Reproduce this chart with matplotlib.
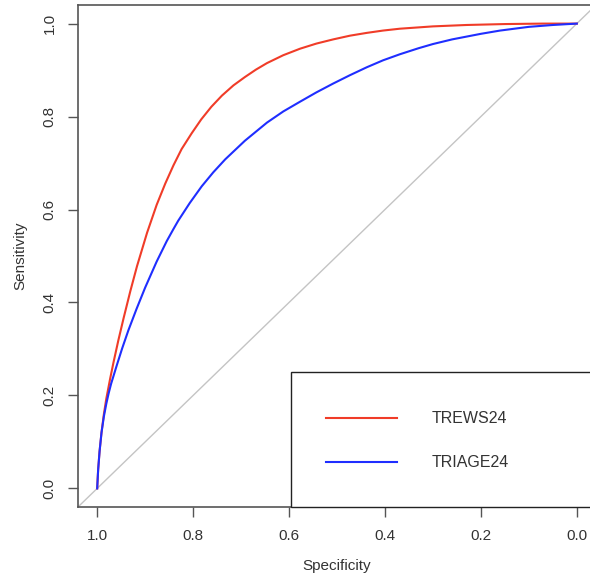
import matplotlib
matplotlib.use('Agg')
import matplotlib.pyplot as plt
from matplotlib.patches import Rectangle

plt.rcParams['font.family'] = ['Liberation Sans', 'DejaVu Sans']

# smoothed ROC curves (specificity, sensitivity)
trews_spec = [1.0, 0.998, 0.995, 0.991, 0.986, 0.981, 0.973, 0.966, 0.956, 0.945,
              0.931, 0.917, 0.896, 0.876, 0.858, 0.841, 0.824, 0.803, 0.783, 0.762,
              0.740, 0.716, 0.692, 0.669, 0.646, 0.612, 0.577, 0.543, 0.508, 0.473,
              0.438, 0.404, 0.369, 0.30, 0.23, 0.15, 0.07, 0.0]
trews_sens = [0.0, 0.040, 0.080, 0.120, 0.160, 0.193, 0.236, 0.271, 0.318, 0.366,
              0.424, 0.478, 0.550, 0.610, 0.656, 0.695, 0.730, 0.764, 0.794, 0.821,
              0.845, 0.867, 0.885, 0.901, 0.915, 0.932, 0.946, 0.957, 0.966, 0.974,
              0.980, 0.985, 0.989, 0.994, 0.997, 0.999, 1.0, 1.0]

triage_spec = [1.0, 0.998, 0.995, 0.991, 0.986, 0.981, 0.976, 0.971, 0.960, 0.948,
               0.935, 0.918, 0.900, 0.876, 0.855, 0.841, 0.831, 0.807, 0.782, 0.758,
               0.733, 0.692, 0.646, 0.612, 0.577, 0.543, 0.508, 0.473, 0.438, 0.404,
               0.369, 0.33, 0.30, 0.26, 0.20, 0.16, 0.10, 0.05, 0.0]
triage_sens = [0.0, 0.040, 0.080, 0.120, 0.155, 0.182, 0.205, 0.225, 0.262, 0.301,
               0.340, 0.386, 0.432, 0.488, 0.532, 0.558, 0.576, 0.614, 0.650, 0.680,
               0.708, 0.748, 0.787, 0.811, 0.832, 0.852, 0.871, 0.889, 0.906, 0.921,
               0.934, 0.947, 0.956, 0.966, 0.978, 0.985, 0.993, 0.997, 1.0]

labels = ['TREWS24', 'TRIAGE24']
colors = ['#f03c28', '#1f2eff']
ticks = [1.0, 0.8, 0.6, 0.4, 0.2, 0.0]

fig = plt.figure(figsize=(5.9, 5.8), dpi=100)
ax = fig.add_axes([78 / 590, 1 - 507 / 580, 518 / 590, 502 / 580])

ax.set_xlim(1.04, -0.04)
ax.set_ylim(-0.04, 1.04)

# chance diagonal
ax.plot([1.04, -0.04], [-0.04, 1.04], color='#c4c4c4', lw=1.0, zorder=1)

ax.plot(trews_spec, trews_sens, color=colors[0], lw=1.5, zorder=3,
        solid_joinstyle='round')
ax.plot(triage_spec, triage_sens, color=colors[1], lw=1.5, zorder=3,
        solid_joinstyle='round')

ax.set_xticks(ticks)
ax.set_yticks(ticks)
ax.set_xticklabels(['%.1f' % t for t in ticks])
ax.set_yticklabels(['%.1f' % t for t in ticks], rotation=90, va='center')
ax.tick_params(direction='out', length=7, width=1.0, color='#555555',
               labelsize=11, labelcolor='#333333', pad=8.5)

for sp in ax.spines.values():
    sp.set_color('#555555')
    sp.set_linewidth(1.2)

ax.set_xlabel('Specificity', fontsize=11, color='#333333', labelpad=12)
ax.set_ylabel('Sensitivity', fontsize=11, color='#333333', labelpad=11)

# legend box, R style
ax.add_patch(Rectangle((0.411, 0.0), 0.7, 0.269, transform=ax.transAxes,
                       facecolor='white', edgecolor='#222222', lw=1.0, zorder=4,
                       clip_on=False))
for i, (lab, c) in enumerate(zip(labels, colors)):
    yy = 0.177 - i * 0.0875
    ax.plot([0.479, 0.616], [yy, yy], color=c, lw=1.5, transform=ax.transAxes, zorder=5)
    ax.text(0.683, yy, lab, transform=ax.transAxes, fontsize=11.5, color='#333333',
            va='center', ha='left', zorder=5)

fig.savefig('out.png', dpi=100)
